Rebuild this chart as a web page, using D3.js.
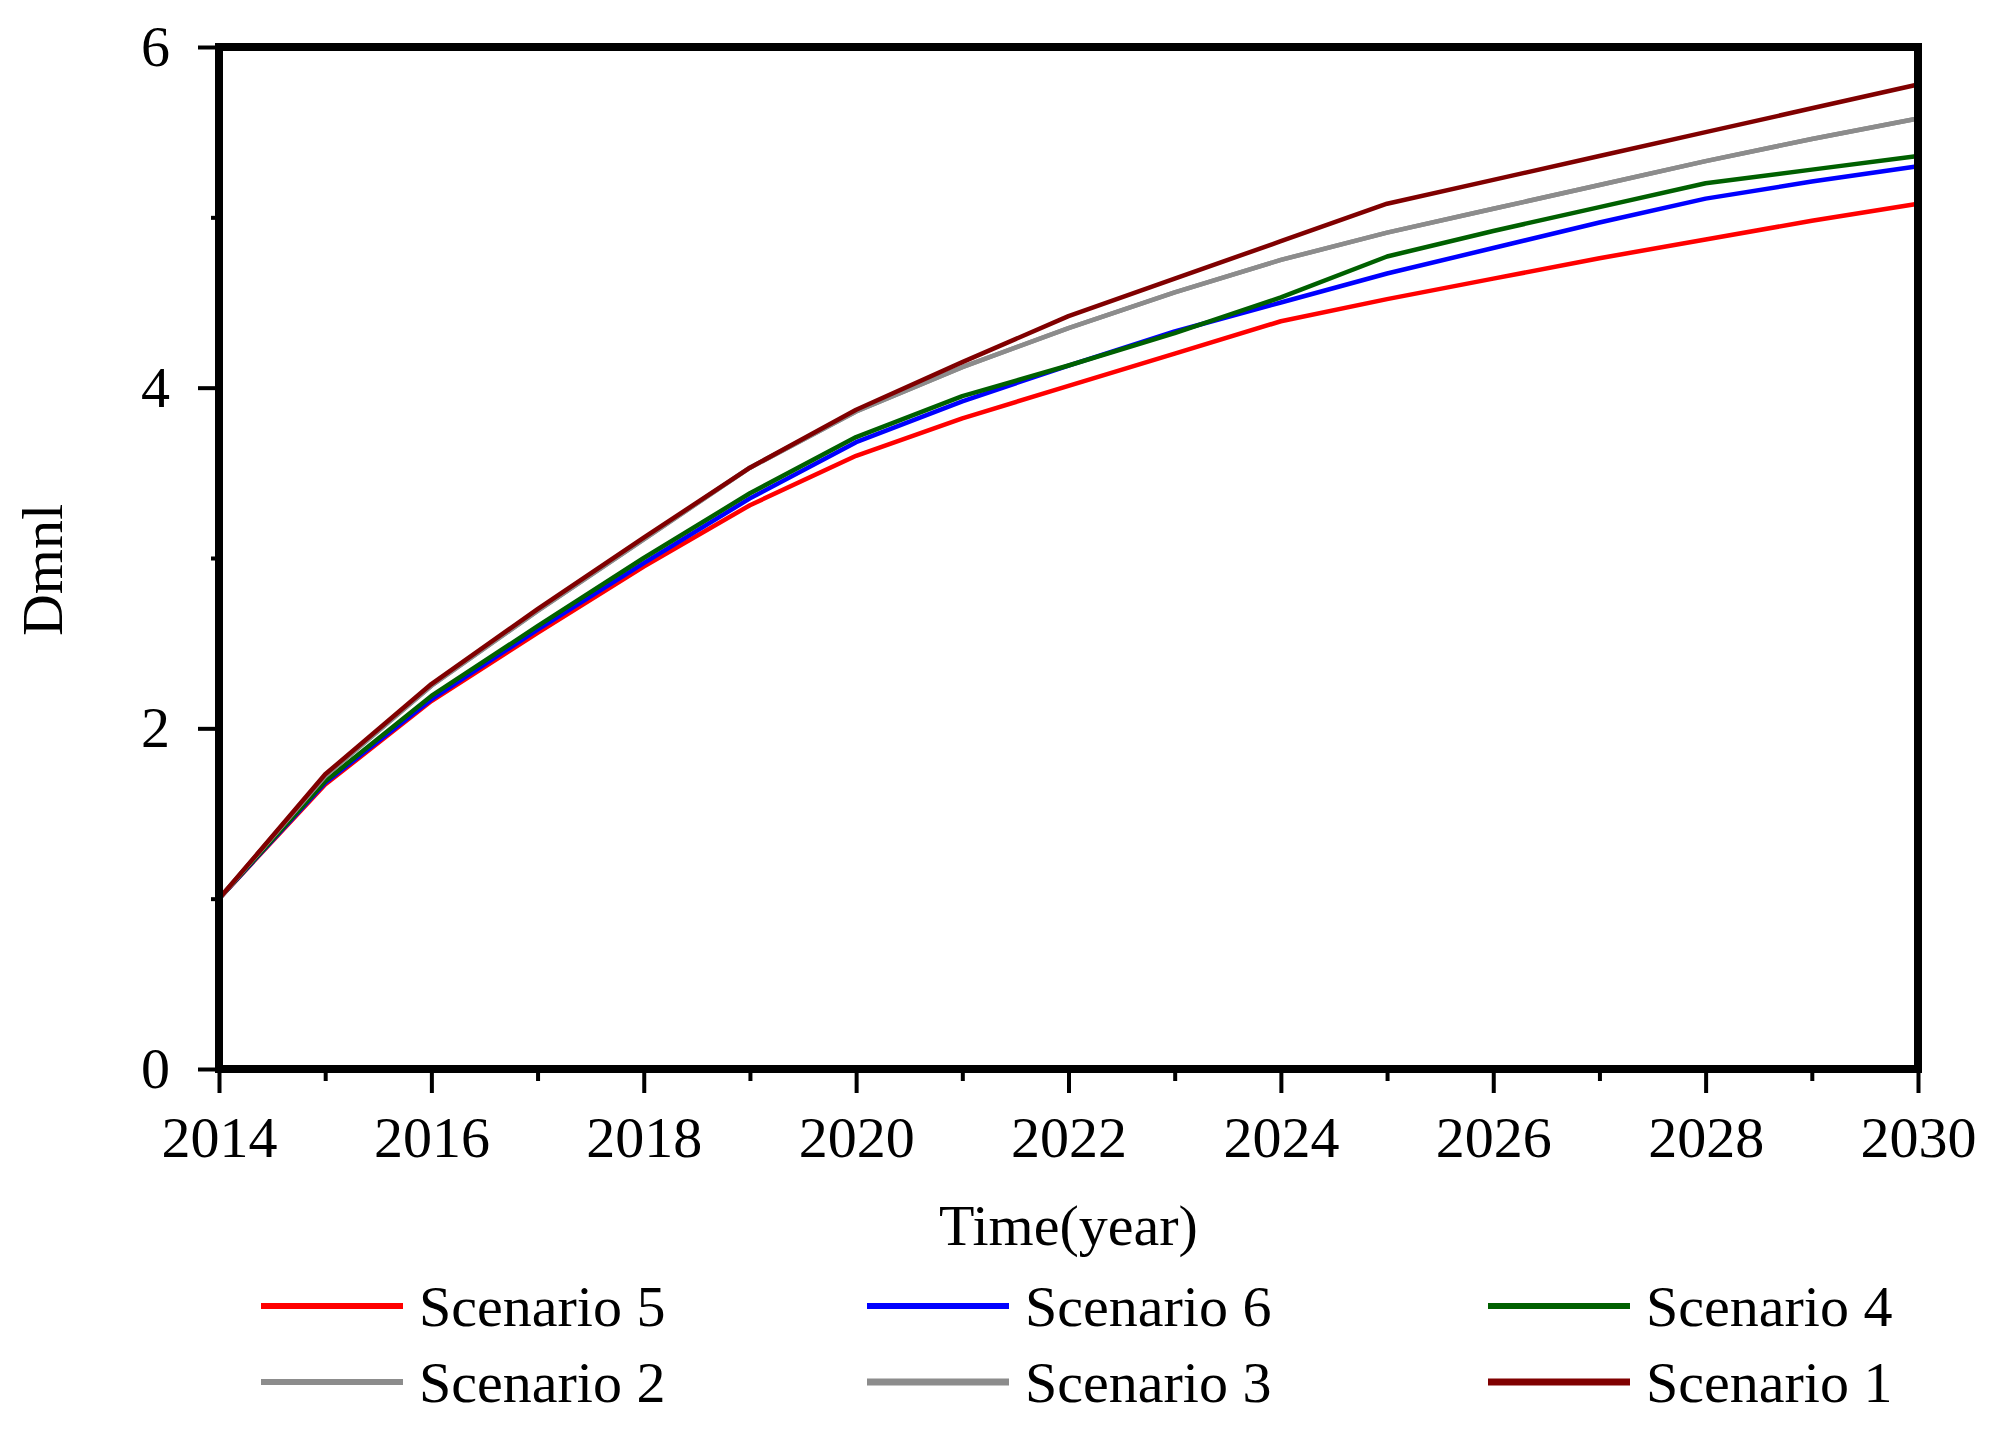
<!DOCTYPE html>
<html>
<head>
<meta charset="utf-8">
<script src="https://cdn.jsdelivr.net/npm/d3@7"></script>
<style>
  body { margin: 0; background: #fff; }
  text { font-family: "Liberation Serif", "Times New Roman", serif; fill: #000; }
</style>
</head>
<body>
<script>

/*
 * Data.
 */

var years = [2014, 2015, 2016, 2017, 2018, 2019, 2020, 2021, 2022,
             2023, 2024, 2025, 2026, 2027, 2028, 2029, 2030];

var scenario5 = [1.00, 1.67, 2.16, 2.56, 2.95, 3.31, 3.60, 3.82, 4.01,
                 4.20, 4.39, 4.52, 4.64, 4.76, 4.87, 4.98, 5.08];
var scenario6 = [1.00, 1.68, 2.17, 2.58, 2.97, 3.35, 3.68, 3.92, 4.13,
                 4.33, 4.50, 4.67, 4.82, 4.97, 5.11, 5.21, 5.30];
var scenario4 = [1.00, 1.69, 2.19, 2.60, 3.00, 3.38, 3.71, 3.95, 4.13,
                 4.32, 4.53, 4.77, 4.92, 5.06, 5.20, 5.28, 5.36];
var scenario2 = [1.00, 1.72, 2.25, 2.69, 3.11, 3.53, 3.86, 4.12, 4.35,
                 4.56, 4.75, 4.91, 5.05, 5.19, 5.33, 5.46, 5.58];
var scenario3 = [1.00, 1.72, 2.25, 2.69, 3.11, 3.53, 3.86, 4.12, 4.35,
                 4.56, 4.75, 4.91, 5.05, 5.19, 5.33, 5.46, 5.58];
var scenario1 = [1.00, 1.73, 2.26, 2.70, 3.12, 3.53, 3.87, 4.15, 4.42,
                 4.64, 4.86, 5.08, 5.22, 5.36, 5.50, 5.64, 5.78];

var seriesNames = ['Scenario 5', 'Scenario 6', 'Scenario 4',
                   'Scenario 2', 'Scenario 3', 'Scenario 1'];
var seriesValues = [scenario5, scenario6, scenario4,
                    scenario2, scenario3, scenario1];
var seriesColors = ['#ff0000', '#0000ff', '#006000',
                    '#8c8c8c', '#8c8c8c', '#800000'];

var yMajorTicks = [0, 2, 4, 6];
var yMinorTicks = [1, 3, 5];
var xMajorTicks = [2014, 2016, 2018, 2020, 2022, 2024, 2026, 2028, 2030];
var xMinorTicks = [2015, 2017, 2019, 2021, 2023, 2025, 2027, 2029];

/*
 * Layout.
 */

var width = 1989;
var height = 1434;
var plot = { left: 219, right: 1918, top: 47, bottom: 1069 };
var fontSize = 58;

var svg = d3.select('body').append('svg')
  .attr('width', width)
  .attr('height', height);

svg.append('rect')
  .attr('width', width)
  .attr('height', height)
  .attr('fill', '#fff');

// Scales.
var x = d3.scaleLinear().domain([2014, 2030]).range([plot.left, plot.right]);
var y = d3.scaleLinear().domain([0, 6]).range([plot.bottom, plot.top]);

/*
 * Axes.
 */

function styleAxis(g) {
  g.select('.domain').remove();
  g.selectAll('.tick line').attr('stroke', '#000').attr('stroke-width', 4);
  g.selectAll('.tick text')
    .style('font-size', fontSize + 'px')
    .style('font-family', '"Liberation Serif", "Times New Roman", serif')
    .attr('fill', '#000');
}

// Bottom, major.
svg.append('g')
  .attr('transform', 'translate(0,' + plot.bottom + ')')
  .call(d3.axisBottom(x).tickValues(xMajorTicks).tickFormat(d3.format('d'))
    .tickSize(24).tickPadding(23))
  .call(styleAxis);

// Bottom, minor.
svg.append('g')
  .attr('transform', 'translate(0,' + plot.bottom + ')')
  .call(d3.axisBottom(x).tickValues(xMinorTicks).tickFormat('').tickSize(12))
  .call(styleAxis);

// Left, major.
svg.append('g')
  .attr('transform', 'translate(' + plot.left + ',0)')
  .call(d3.axisLeft(y).tickValues(yMajorTicks).tickFormat(d3.format('d'))
    .tickSize(21).tickPadding(28))
  .call(styleAxis);

// Left, minor.
svg.append('g')
  .attr('transform', 'translate(' + plot.left + ',0)')
  .call(d3.axisLeft(y).tickValues(yMinorTicks).tickFormat('').tickSize(8))
  .call(styleAxis);

/*
 * Lines.
 */

var line = d3.line()
  .x(function(d, i) { return x(years[i]); })
  .y(function(d) { return y(d); });

svg.append('g').selectAll('path')
  .data(seriesValues)
  .enter().append('path')
  .attr('d', line)
  .attr('fill', 'none')
  .attr('stroke', function(d, i) { return seriesColors[i]; })
  .attr('stroke-width', 4.5)
  .attr('stroke-linejoin', 'round');

// Frame.
svg.append('rect')
  .attr('x', plot.left)
  .attr('y', plot.top)
  .attr('width', plot.right - plot.left)
  .attr('height', plot.bottom - plot.top)
  .attr('fill', 'none')
  .attr('stroke', '#000')
  .attr('stroke-width', 8);

/*
 * Titles.
 */

svg.append('text')
  .attr('x', (plot.left + plot.right) / 2)
  .attr('y', 1245)
  .attr('text-anchor', 'middle')
  .style('font-size', fontSize + 'px')
  .text('Time(year)');

svg.append('text')
  .attr('transform', 'translate(62,' + 570 + ') rotate(-90)')
  .attr('text-anchor', 'middle')
  .style('font-size', fontSize + 'px')
  .text('Dmnl');

/*
 * Legend.
 */

var legendCols = [261, 867, 1488];
var legendRows = [1306, 1382];
var legendLength = 142;

var item = svg.append('g').selectAll('g')
  .data(seriesNames)
  .enter().append('g')
  .attr('transform', function(d, i) {
    return 'translate(' + legendCols[i % 3] + ',' + legendRows[Math.floor(i / 3)] + ')';
  });

item.append('line')
  .attr('x1', 0)
  .attr('x2', legendLength)
  .attr('stroke', function(d, i) { return seriesColors[i]; })
  .attr('stroke-width', function(d, i) { return (i === 4 || i === 5) ? 7 : 6; });

item.append('text')
  .attr('x', legendLength + 16)
  .attr('dy', '0.35em')
  .style('font-size', fontSize + 'px')
  .text(function(d) { return d; });

</script>
</body>
</html>
